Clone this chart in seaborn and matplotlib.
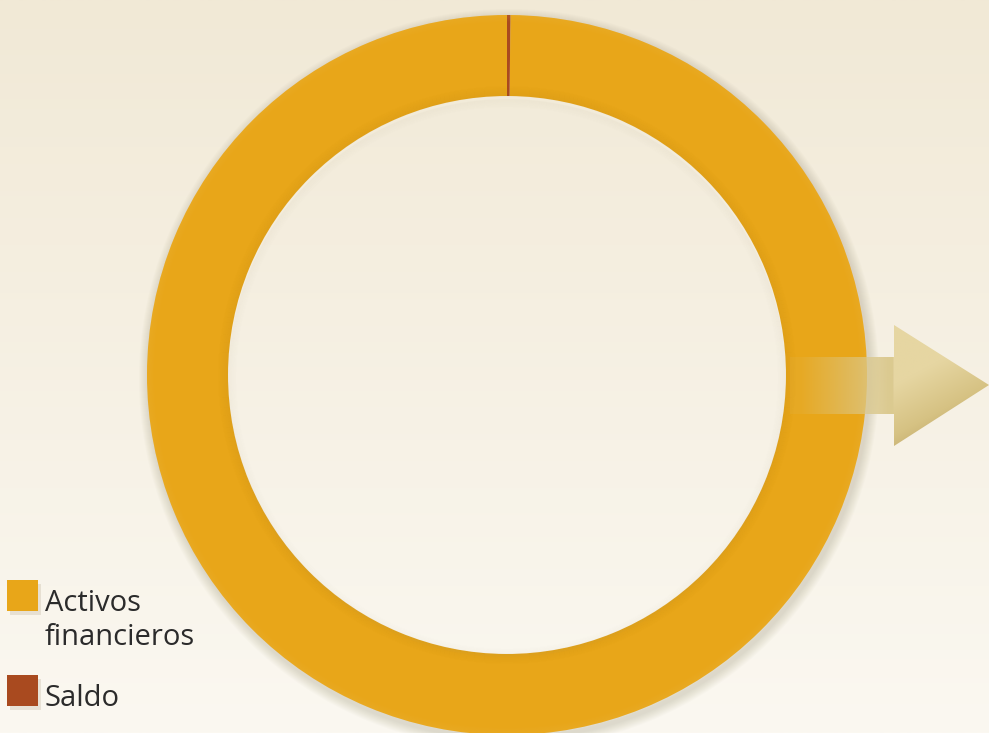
import numpy as np
import seaborn as sns
import matplotlib.pyplot as plt
from matplotlib.patches import Wedge, Polygon, Rectangle
from matplotlib.colors import LinearSegmentedColormap, to_rgb

# Data
labels = ['Activos financieros', 'Saldo']
legend_text = ['Activos\nfinancieros', 'Saldo']
values = [99.85, 0.15]
colors = ['#E8A619', '#A94A1F']

sns.set_theme(style='white')
plt.rcParams['font.family'] = ['Open Sans', 'DejaVu Sans']

W, H = 989, 733
fig = plt.figure(figsize=(W / 100, H / 100), dpi=100)
ax = fig.add_axes([0, 0, 1, 1])

# Background gradient
bg = LinearSegmentedColormap.from_list('bg', ['#FBF8F1', '#F1E9D6'])
grad = np.linspace(0, 1, 256).reshape(-1, 1)
ax.imshow(grad, cmap=bg, extent=[0, W, 0, H], origin='lower', aspect='auto', zorder=0)

cx, cy, R, ring = 507, 358, 360, 81

# soft shadow around donut
for i in range(10):
    ax.add_patch(Wedge((cx + 2, cy - 4), R + 10 - i, 0, 360, width=20 - 2 * i + 2,
                       color='#8a7a5a', alpha=0.025, lw=0, zorder=1))

wedges, _ = ax.pie(values, colors=colors, startangle=90, counterclock=True,
                   center=(cx, cy), radius=R, frame=True,
                   wedgeprops=dict(width=ring, linewidth=0))
for w in wedges:
    w.set_zorder(2)
ax.set_xlim(0, W)
ax.set_ylim(0, H)
ax.set_aspect('equal')
ax.axis('off')

# bevel: lighter outer rim, darker inner edge
for i in range(8):
    ax.add_patch(Wedge((cx, cy), R - i, 0, 360, width=1.2,
                       color='#F5C865', alpha=0.1 * (8 - i) / 8, lw=0, zorder=3))
for i in range(10):
    ax.add_patch(Wedge((cx, cy), R - ring + 1 + i, 0, 360, width=1.2,
                       color='#9a6a10', alpha=0.08 * (10 - i) / 10, lw=0, zorder=3))
# inner shadow inside the hole
for i in range(8):
    ax.add_patch(Wedge((cx, cy - 3), R - ring - i, 0, 360, width=1.2,
                       color='#b0a080', alpha=0.05 * (8 - i) / 8, lw=0, zorder=3))

# Arrow with diagonal shading
arrow = Polygon([(790, 319), (894, 319), (894, 287), (989, 348), (894, 408),
                 (894, 376), (790, 376)], closed=True, facecolor='none', edgecolor='none', zorder=4)
ax.add_patch(arrow)
nx, ny = 200, 122
xs = np.linspace(790, 989, nx)
yv = np.linspace(287, 408, ny)
X, Y = np.meshgrid(xs, yv)
light = np.array(to_rgb('#E6D6A2'))
mid = np.array(to_rgb('#D6C283'))
dark = np.array(to_rgb('#B49A5C'))
t = np.clip(((X - 894) / 95) * 0.5 + ((348 - Y) / 61) * 0.6, 0, 1)
t = np.where(X < 894, 0.35, t)
rgb = np.where(t[..., None] < 0.5,
               light + (mid - light) * (t[..., None] / 0.5),
               mid + (dark - mid) * ((t[..., None] - 0.5) / 0.5))
alpha = np.clip((X - 790) / 80, 0.15, 1.0)
alpha = np.where(X < 894, np.clip((X - 790) / 104, 0.1, 0.95), 1.0)
rgba = np.dstack([rgb, alpha])
img = ax.imshow(rgba, extent=[790, 989, 287, 408], origin='lower', aspect='auto', zorder=4)
img.set_clip_path(arrow)

# Legend
bottoms = [733 - 611, 733 - 706]
for c, txt, y in zip(colors, legend_text, bottoms):
    ax.add_patch(Rectangle((10, y - 4), 31, 31, facecolor='#a09070', alpha=0.2, lw=0, zorder=5))
    ax.add_patch(Rectangle((7, y), 31, 31, facecolor=c, lw=0, zorder=6))
    first, *rest = txt.split('\n')
    ax.text(45, y, first, fontsize=21, color='#2b2b2b', va='baseline', ha='left', zorder=6)
    for k, line in enumerate(rest):
        ax.text(45, y - 34 * (k + 1), line, fontsize=21, color='#2b2b2b',
                va='baseline', ha='left', zorder=6)

fig.savefig('out.png', dpi=100)
